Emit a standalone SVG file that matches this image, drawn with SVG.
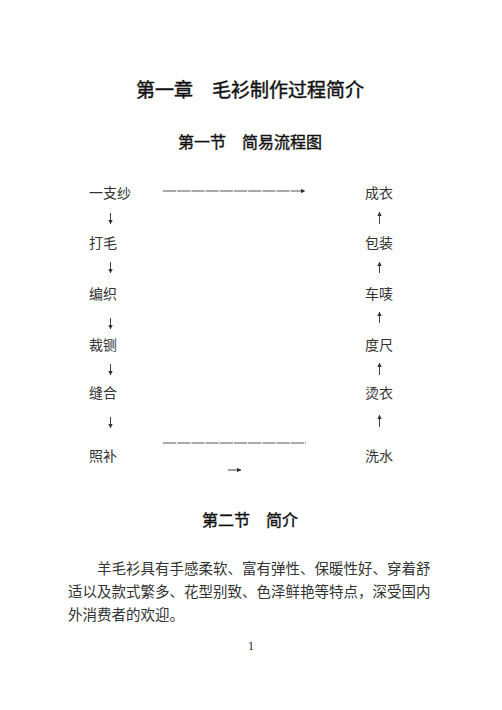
<svg xmlns="http://www.w3.org/2000/svg" width="502" height="710" viewBox="0 0 502 710">
<style>
  .bg{fill:#ffffff}
  text{font-family:"Noto Sans CJK SC","Noto Sans",sans-serif;fill:#222}
  .h1{font-size:19px;font-weight:normal;text-anchor:middle;fill:#111;stroke:#111;stroke-width:0.45}
  .h2{font-size:16px;font-weight:normal;text-anchor:middle;fill:#111;stroke:#111;stroke-width:0.4}
  .node{font-size:14px;fill:#333}
  .body{font-size:14.5px;fill:#333}
  .pg{font-family:"Liberation Serif",serif;font-size:12px;text-anchor:middle}
  .conn{stroke:#444;stroke-width:1;fill:none}
  .dash{stroke:#555;stroke-width:1;fill:none;stroke-dasharray:13.2 1}
</style>
<defs>
  <marker id="ah" viewBox="0 0 6 6" refX="5.5" refY="3" markerWidth="4.5" markerHeight="4.5" orient="auto" markerUnits="userSpaceOnUse">
    <path d="M0,0 L6,3 L0,6 Z" fill="#333"/>
  </marker>
</defs>
<rect class="bg" x="0" y="0" width="502" height="710"/>
<g id="titles">
  <text class="h1" x="250" y="97">第一章　毛衫制作过程简介</text>
  <text class="h2" x="250" y="148">第一节　简易流程图</text>
  <text class="h2" x="250" y="526">第二节　简介</text>
</g>
<g id="n-yizhisha"><text class="node" x="89" y="198">一支纱</text></g>
<g id="n-damao"><text class="node" x="89" y="248">打毛</text></g>
<g id="n-bianzhi"><text class="node" x="89" y="299">编织</text></g>
<g id="n-caizha"><text class="node" x="89" y="350">裁铡</text></g>
<g id="n-fenghe"><text class="node" x="89" y="398">缝合</text></g>
<g id="n-zhaobu"><text class="node" x="89" y="461">照补</text></g>
<g id="n-chengyi"><text class="node" x="365" y="198">成衣</text></g>
<g id="n-baozhuang"><text class="node" x="365" y="248">包装</text></g>
<g id="n-chemai"><text class="node" x="365" y="299">车唛</text></g>
<g id="n-duchi"><text class="node" x="365" y="350">度尺</text></g>
<g id="n-tangyi"><text class="node" x="365" y="398">烫衣</text></g>
<g id="n-xishui"><text class="node" x="365" y="461">洗水</text></g>
<g id="connectors">
  <line class="dash" x1="163" y1="191" x2="305" y2="191" marker-end="url(#ah)"/>
  <line class="conn" x1="110.5" y1="213" x2="110.5" y2="224" marker-end="url(#ah)"/>
  <line class="conn" x1="110.5" y1="262" x2="110.5" y2="273" marker-end="url(#ah)"/>
  <line class="conn" x1="110.5" y1="318" x2="110.5" y2="329" marker-end="url(#ah)"/>
  <line class="conn" x1="110.5" y1="364" x2="110.5" y2="375" marker-end="url(#ah)"/>
  <line class="conn" x1="110.5" y1="417" x2="110.5" y2="428" marker-end="url(#ah)"/>
  <line class="dash" x1="163" y1="443" x2="306" y2="443"/>
  <line class="conn" x1="228" y1="470" x2="241" y2="470" marker-end="url(#ah)"/>
  <line class="conn" x1="379.5" y1="224" x2="379.5" y2="212" marker-end="url(#ah)"/>
  <line class="conn" x1="379.5" y1="273" x2="379.5" y2="262" marker-end="url(#ah)"/>
  <line class="conn" x1="379.5" y1="323" x2="379.5" y2="312" marker-end="url(#ah)"/>
  <line class="conn" x1="379.5" y1="375" x2="379.5" y2="363" marker-end="url(#ah)"/>
  <line class="conn" x1="379.5" y1="427" x2="379.5" y2="415" marker-end="url(#ah)"/>
</g>
<g id="paragraph">
  <text class="body" x="97" y="573.5">羊毛衫具有手感柔软、富有弹性、保暖性好、穿着舒</text>
  <text class="body" x="68" y="596.5">适以及款式繁多、花型别致、色泽鲜艳等特点，深受国内</text>
  <text class="body" x="68" y="619.5">外消费者的欢迎。</text>
</g>
<text class="pg" x="251" y="650">1</text>
</svg>
